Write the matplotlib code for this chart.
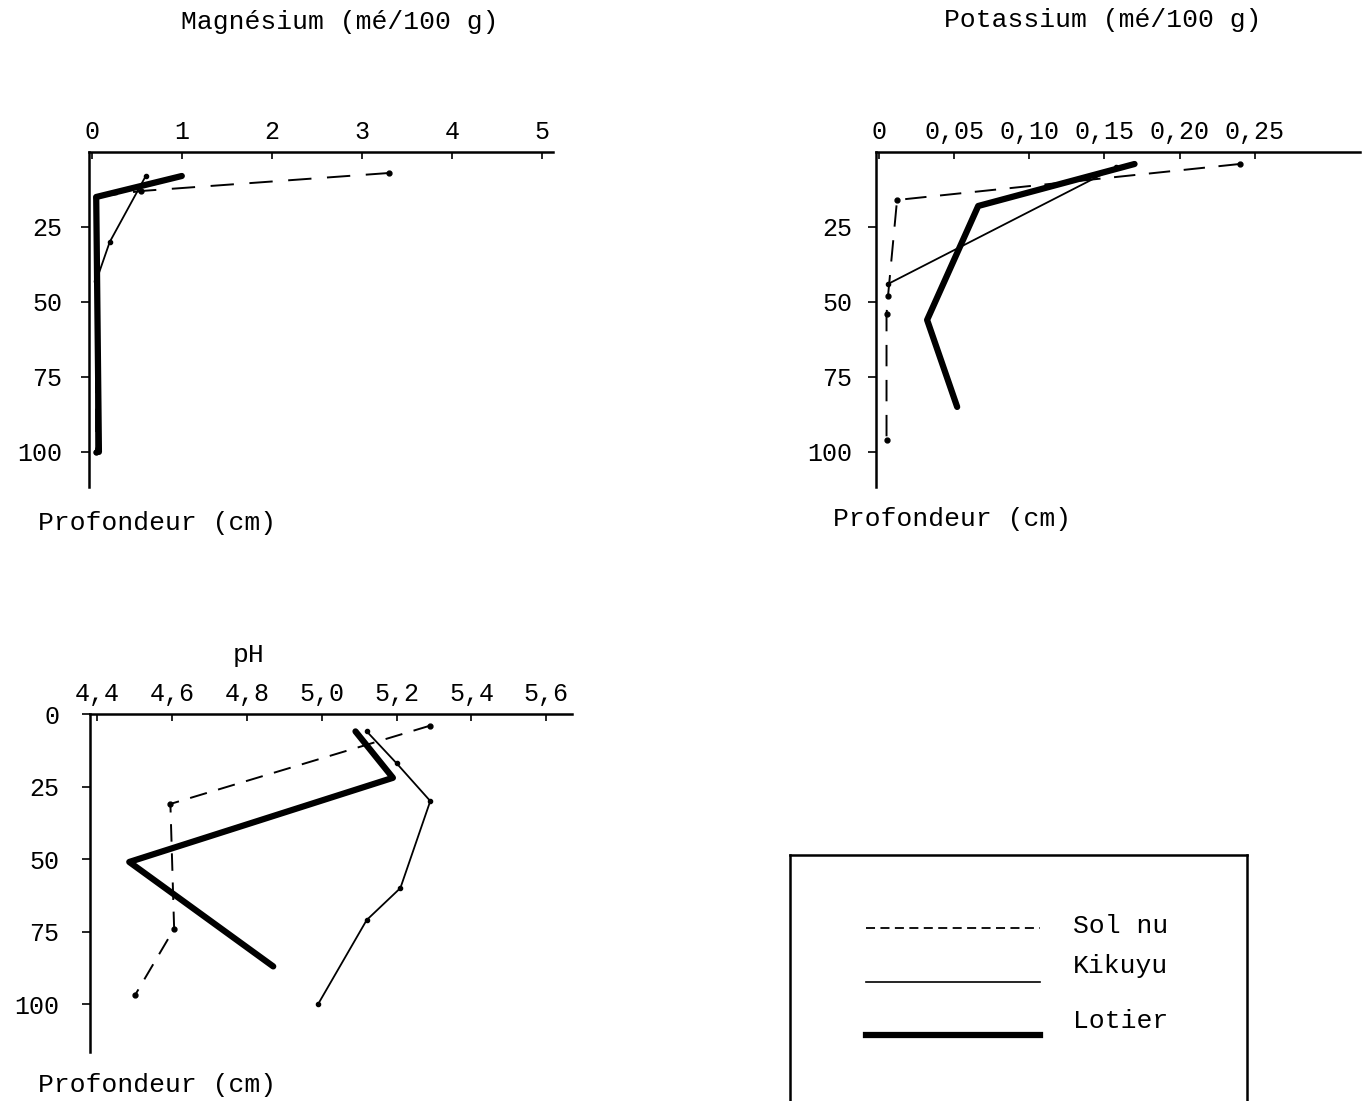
import matplotlib
matplotlib.use("Agg")
import matplotlib.pyplot as plt

plt.rcParams['font.family'] = ['Liberation Mono', 'DejaVu Sans Mono']

W, H = 1367, 1101

# --- data ---
# Magnesium (me/100 g) vs depth (cm)
mg_solnu_x = [3.3, 0.55, 0.05, 0.05]
mg_solnu_d = [7, 13, 15, 100]
mg_kikuyu_x = [0.6, 0.2, 0.05, 0.05]
mg_kikuyu_d = [8, 30, 43, 100]
mg_lotier_x = [1.0, 0.05, 0.08]
mg_lotier_d = [8, 15, 100]

# Potassium (me/100 g)
k_solnu_x = [0.24, 0.012, 0.006, 0.005, 0.005]
k_solnu_d = [4, 16, 48, 54, 96]
k_kikuyu_x = [0.158, 0.006]
k_kikuyu_d = [5, 44]
k_lotier_x = [0.17, 0.066, 0.032, 0.052]
k_lotier_d = [4, 18, 56, 85]

# pH
ph_solnu_x = [5.29, 4.595, 4.605, 4.50]
ph_solnu_d = [4, 31, 74, 97]
ph_kikuyu_x = [5.12, 5.20, 5.29, 5.21, 5.12, 4.99]
ph_kikuyu_d = [6, 17, 30, 60, 71, 100]
ph_lotier_x = [5.09, 5.19, 4.485, 4.87]
ph_lotier_d = [6, 22, 51, 87]

mg_ticks = [0, 1, 2, 3, 4, 5]
mg_labels = ['0', '1', '2', '3', '4', '5']
k_ticks = [0, 0.05, 0.10, 0.15, 0.20, 0.25]
k_labels = ['0', '0,05', '0,10', '0,15', '0,20', '0,25']
ph_ticks = [4.4, 4.6, 4.8, 5.0, 5.2, 5.4, 5.6]
ph_labels = ['4,4', '4,6', '4,8', '5,0', '5,2', '5,4', '5,6']
depth_ticks = [25, 50, 75, 100]
ph_depth_ticks = [0, 25, 50, 75, 100]

fig = plt.figure(figsize=(W / 100, H / 100), dpi=100)


def box(l, r, t, b):
    return [l / W, 1 - b / H, (r - l) / W, (b - t) / H]


def panel(rect, xlim, ylim, xt, xl, yt, ypad=13):
    ax = fig.add_axes(box(*rect))
    ax.set_xlim(*xlim)
    ax.set_ylim(*ylim)
    ax.spines['bottom'].set_visible(False)
    ax.spines['right'].set_visible(False)
    ax.spines['top'].set_linewidth(1.8)
    ax.spines['left'].set_linewidth(1.8)
    ax.xaxis.tick_top()
    ax.set_xticks(xt)
    ax.set_xticklabels(xl)
    ax.set_yticks(yt)
    ax.set_yticklabels([str(v) for v in yt])
    ax.tick_params(axis='x', direction='in', length=5, width=1.2, labelsize=18, pad=6)
    ax.tick_params(axis='y', direction='out', length=6, width=1.2, labelsize=18, pad=ypad)
    ax.patch.set_visible(False)
    return ax


def draw(ax, sx, sd, kx, kd, lx, ld, dash):
    ax.plot(sx, sd, color='black', lw=1.4, ls=(0, dash), marker='o', ms=3.5)
    ax.plot(kx, kd, color='black', lw=1.3, marker='o', ms=3)
    ax.plot(lx, ld, color='black', lw=4.5, solid_capstyle='round')


ax1 = panel((89, 553, 152, 487), (-0.03, 5.12), (111.7, 0), mg_ticks, mg_labels, depth_ticks)
draw(ax1, mg_solnu_x, mg_solnu_d, mg_kikuyu_x, mg_kikuyu_d, mg_lotier_x, mg_lotier_d, (12, 8))

ax2 = panel((876, 1360, 152, 487), (-0.002, 0.32), (111.7, 0), k_ticks, k_labels, depth_ticks, ypad=11)
draw(ax2, k_solnu_x, k_solnu_d, k_kikuyu_x, k_kikuyu_d, k_lotier_x, k_lotier_d, (11, 7))

ax3 = panel((90, 572, 714, 1052), (4.38, 5.669), (116.5, 0), ph_ticks, ph_labels, ph_depth_ticks, ypad=16)
draw(ax3, ph_solnu_x, ph_solnu_d, ph_kikuyu_x, ph_kikuyu_d, ph_lotier_x, ph_lotier_d, (9, 6))

# titles and axis labels
fs = 19
fig.text(340 / W, 1 - 22 / H, 'Magnésium (mé/100 g)', ha='center', va='center', fontsize=fs)
fig.text(1103 / W, 1 - 20 / H, 'Potassium (mé/100 g)', ha='center', va='center', fontsize=fs)
fig.text(249 / W, 1 - 655 / H, 'pH', ha='center', va='center', fontsize=fs)
fig.text(38 / W, 1 - 523 / H, 'Profondeur (cm)', ha='left', va='center', fontsize=fs)
fig.text(833 / W, 1 - 519 / H, 'Profondeur (cm)', ha='left', va='center', fontsize=fs)
fig.text(38 / W, 1 - 1085 / H, 'Profondeur (cm)', ha='left', va='center', fontsize=fs)

# legend box
lg = fig.add_axes(box(790, 1247, 855, 1101))
lg.set_xlim(790, 1247)
lg.set_ylim(1101, 855)
lg.set_xticks([])
lg.set_yticks([])
lg.spines['bottom'].set_visible(False)
for s in ['top', 'left', 'right']:
    lg.spines[s].set_linewidth(1.8)
lg.plot([866, 1040], [928, 928], color='black', lw=1.3, ls=(0, (5, 3)))
lg.plot([866, 1040], [982, 982], color='black', lw=1.2)
lg.plot([866, 1040], [1035, 1035], color='black', lw=4.5)
lg.text(1073, 926, 'Sol nu', fontsize=fs, va='center')
lg.text(1073, 966, 'Kikuyu', fontsize=fs, va='center')
lg.text(1073, 1021, 'Lotier', fontsize=fs, va='center')

fig.savefig('out.png', dpi=100)
